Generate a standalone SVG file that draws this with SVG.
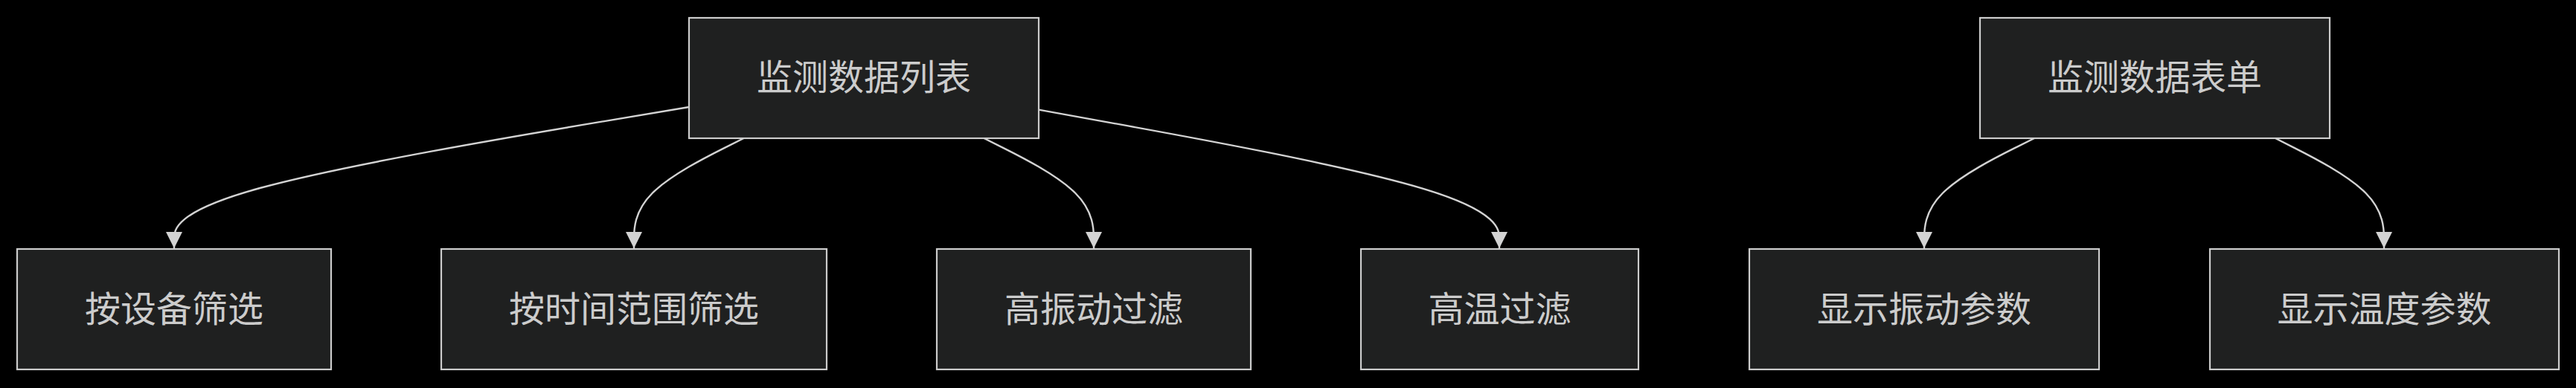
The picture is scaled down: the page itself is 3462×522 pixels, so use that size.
<svg xmlns="http://www.w3.org/2000/svg" width="3462" height="522" viewBox="0 0 3462 522">
<style>
.node rect{fill:#1f2020;stroke:#cccccc;stroke-width:2.2}
.node text{fill:#cccccc;font-family:"Noto Sans CJK SC","Noto Sans",sans-serif;font-size:48px;text-anchor:middle}
.edge{fill:none;stroke:#d3d3d3;stroke-width:2.4;marker-end:url(#arrow)}
</style>
<defs>
<marker id="arrow" viewBox="0 0 10 10" refX="10" refY="5" markerWidth="22" markerHeight="24" markerUnits="userSpaceOnUse" orient="auto">
<path d="M0 0 L10 5 L0 10 z" fill="#d3d3d3"/>
</marker>
</defs>
<rect x="0" y="0" width="3462" height="522" fill="#000000"/>
<g id="connectors">
<path class="edge" d="M926 144 L810.67 163.33 C695.33 182.67 464.67 221.33 349.33 253 C234 284.67 234 309.33 234 321.67 L234 334"/>
<path class="edge" d="M999.5 186 L974.92 198.33 C950.33 210.67 901.17 235.33 876.58 260 C852 284.67 852 309.33 852 321.67 L852 334"/>
<path class="edge" d="M1322.5 186 L1347.08 198.33 C1371.67 210.67 1420.83 235.33 1445.42 260 C1470 284.67 1470 309.33 1470 321.67 L1470 334"/>
<path class="edge" d="M1396 147.6 L1499.17 166.33 C1602.33 185.07 1808.67 222.53 1911.83 253.6 C2015 284.67 2015 309.33 2015 321.67 L2015 334"/>
<path class="edge" d="M2734 186 L2709.33 198.33 C2684.67 210.67 2635.33 235.33 2610.67 260 C2586 284.67 2586 309.33 2586 321.67 L2586 334"/>
<path class="edge" d="M3058 186 L3082.33 198.33 C3106.67 210.67 3155.33 235.33 3179.67 260 C3204 284.67 3204 309.33 3204 321.67 L3204 334"/>
</g>
<g id="node-list" class="node"><rect x="926" y="24" width="470" height="162"/><text x="1161" y="121">监测数据列表</text></g>
<g id="node-form" class="node"><rect x="2661" y="24" width="470" height="162"/><text x="2896" y="121">监测数据表单</text></g>
<g id="node-device" class="node"><rect x="23" y="335" width="422" height="162"/><text x="234" y="433">按设备筛选</text></g>
<g id="node-time" class="node"><rect x="593" y="335" width="518" height="162"/><text x="852" y="433">按时间范围筛选</text></g>
<g id="node-vib" class="node"><rect x="1259" y="335" width="422" height="162"/><text x="1470" y="433">高振动过滤</text></g>
<g id="node-temp" class="node"><rect x="1829" y="335" width="373" height="162"/><text x="2015.5" y="433">高温过滤</text></g>
<g id="node-showvib" class="node"><rect x="2351" y="335" width="470" height="162"/><text x="2586" y="433">显示振动参数</text></g>
<g id="node-showtemp" class="node"><rect x="2970" y="335" width="469" height="162"/><text x="3204.5" y="433">显示温度参数</text></g>
</svg>
